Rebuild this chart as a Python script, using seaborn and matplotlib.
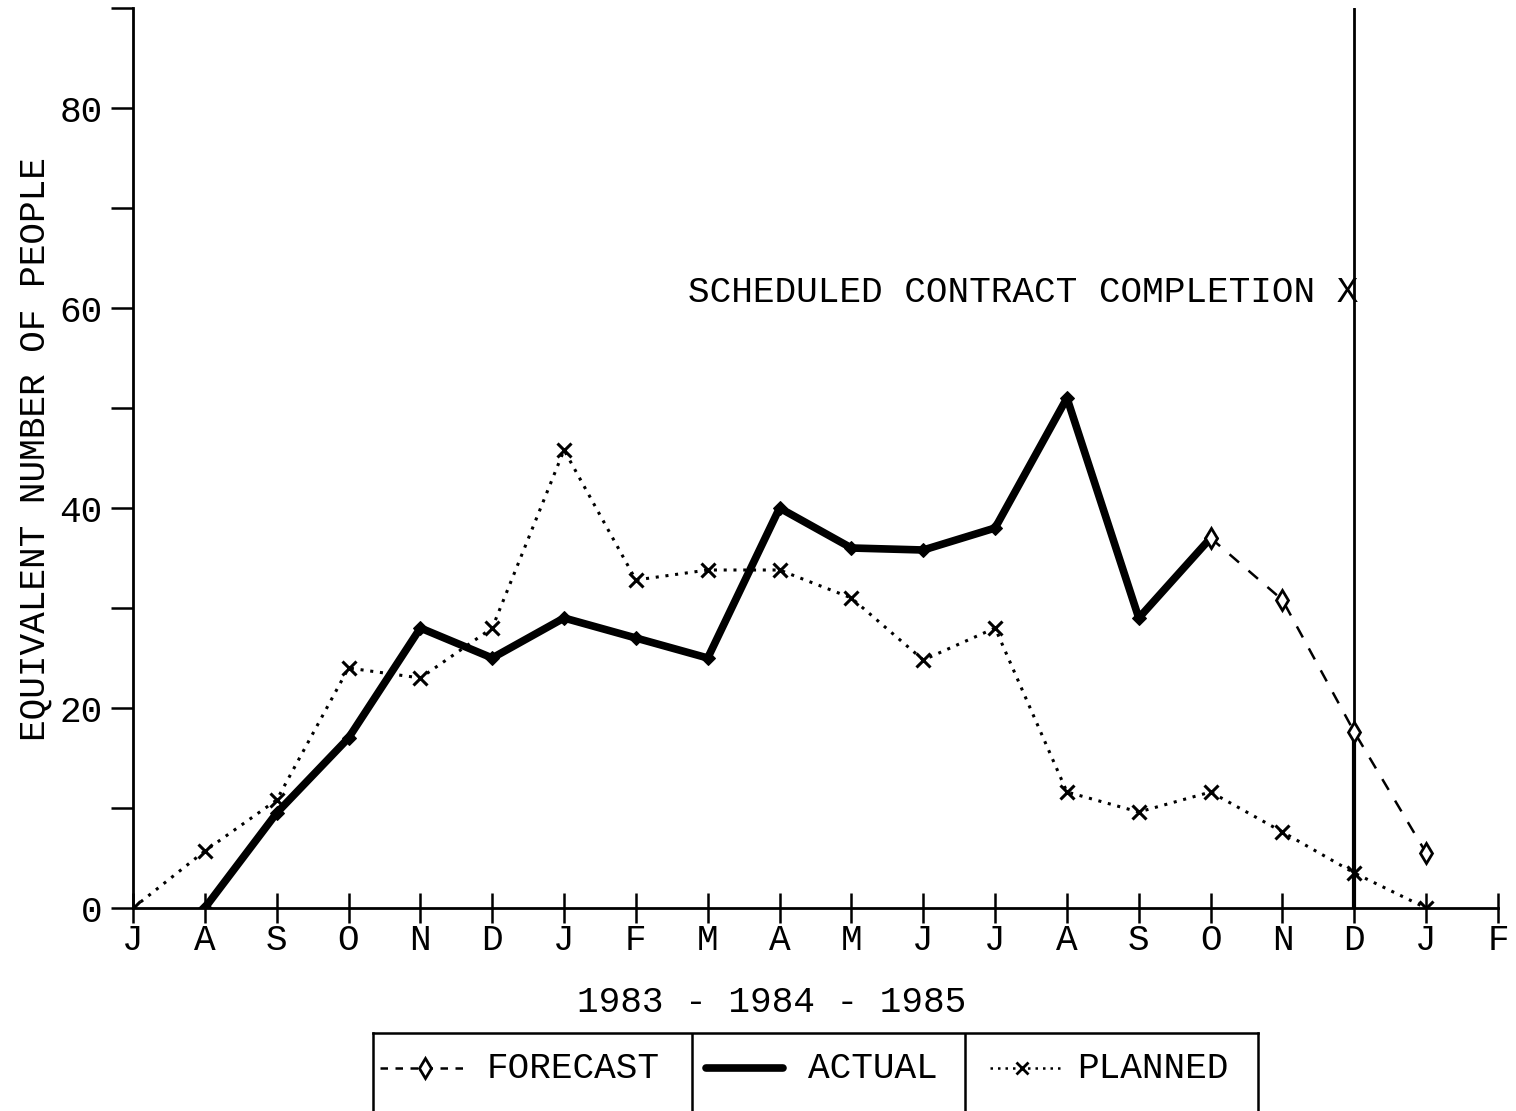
import numpy as np
import pandas as pd
import seaborn as sns
import matplotlib.pyplot as plt

# ---- data ----
months = ['J', 'A', 'S', 'O', 'N', 'D', 'J', 'F', 'M', 'A',
          'M', 'J', 'J', 'A', 'S', 'O', 'N', 'D', 'J', 'F']
planned = [0, 5.7, 10.8, 24, 23, 28, 45.8, 32.8, 33.8, 33.8,
           31, 24.8, 28, 11.6, 9.6, 11.6, 7.6, 3.5, 0]
actual_idx = list(range(1, 16))
actual = [0, 9.5, 17, 28, 25, 29, 27, 25, 40, 36, 35.8, 38, 51, 29, 37]
forecast_idx = [15, 16, 17, 18]
forecast = [37, 30.8, 17.6, 5.5]
completion_idx = 17          # scheduled contract completion (D)
yticks = np.arange(0, 91, 10)
ylabels = ['0', '', '20', '', '40', '', '60', '', '80', '']

sns.set_style('ticks')
plt.rcParams['font.family'] = ['Liberation Mono', 'DejaVu Sans Mono']
for k in ['text.color', 'axes.labelcolor', 'xtick.color', 'ytick.color', 'axes.edgecolor']:
    plt.rcParams[k] = 'black'
FS = 26

W, H = 1516, 1111
fig = plt.figure(figsize=(W / 100, H / 100), dpi=100)
ax = fig.add_axes([133 / W, (H - 908) / H, 1365 / W, 900 / H])

# planned (dotted, x markers)
sns.lineplot(x=np.arange(len(planned)), y=planned, ax=ax, color='black',
             lw=2.2, linestyle=(0, (1, 2.2)), marker='x', markersize=10,
             markeredgewidth=2.2, markeredgecolor='black', zorder=3)
# actual (thick solid)
sns.lineplot(x=actual_idx, y=actual, ax=ax, color='black', lw=5.5,
             marker='D', markersize=7, markeredgecolor='black', zorder=4)
# forecast (dashed, open diamonds)
sns.lineplot(x=forecast_idx, y=forecast, ax=ax, color='black', lw=1.8,
             linestyle=(0, (5, 5)), marker='d', markersize=10,
             markerfacecolor='white', markeredgecolor='black',
             markeredgewidth=2, zorder=5)

# scheduled completion line
ax.axvline(completion_idx, color='black', lw=2, zorder=2)
ax.plot([completion_idx, completion_idx], [0, forecast[forecast_idx.index(completion_idx)]],
        color='black', lw=3, zorder=2)
ax.text(completion_idx + 0.05, 61.5, 'SCHEDULED CONTRACT COMPLETION X',
        ha='right', va='center', fontsize=FS)

ax.set_xlim(0, len(months) - 1)
ax.set_ylim(0, 90)
ax.set_xticks(np.arange(len(months)))
ax.set_xticklabels(months, fontsize=FS)
ax.set_yticks(yticks)
ax.set_yticklabels(ylabels, fontsize=FS)
ax.tick_params(axis='y', direction='out', length=16, width=1.8, pad=6)
ax.tick_params(axis='x', direction='inout', length=22, width=1.8, pad=0)
for s in ['top', 'right']:
    ax.spines[s].set_visible(False)
for s in ['left', 'bottom']:
    ax.spines[s].set_linewidth(2)
ax.set_xlabel('1983 - 1984 - 1985', fontsize=FS)
ax.xaxis.set_label_coords((772 - 133) / 1365, -0.085)
ax.set_ylabel('EQUIVALENT NUMBER OF PEOPLE', fontsize=FS)
ax.yaxis.set_label_coords(-0.059, 0.51)

# ---- boxed legend under the chart ----
lx0, lx1, ltop = 373, 1258, 1033
lg = fig.add_axes([lx0 / W, 0, (lx1 - lx0) / W, (H - ltop) / H])
lg.set_xlim(lx0, lx1)
lg.set_ylim(0, H - ltop)
lg.set_xticks([])
lg.set_yticks([])
lg.spines['bottom'].set_visible(False)
for s in ['top', 'left', 'right']:
    lg.spines[s].set_linewidth(1.8)
for xd in [692, 965]:
    lg.axvline(xd, color='black', lw=1.8)
yc = H - 1068
lg.plot([380, 470], [yc, yc], color='black', lw=1.8, linestyle=(0, (3, 3)))
lg.plot([425], [yc], color='black', marker='d', markersize=10,
        markerfacecolor='white', markeredgewidth=2)
lg.text(487, yc, 'FORECAST', va='center', fontsize=FS)
lg.plot([706, 783], [yc, yc], color='black', lw=5.5)
lg.text(808, yc, 'ACTUAL', va='center', fontsize=FS)
lg.plot([990, 1060], [yc, yc], color='black', lw=1.8, linestyle=(0, (1, 2)))
lg.plot([1022], [yc], color='black', marker='x', markersize=8, markeredgewidth=2)
lg.text(1077, yc, 'PLANNED', va='center', fontsize=FS)

fig.savefig('out.png', dpi=100)
